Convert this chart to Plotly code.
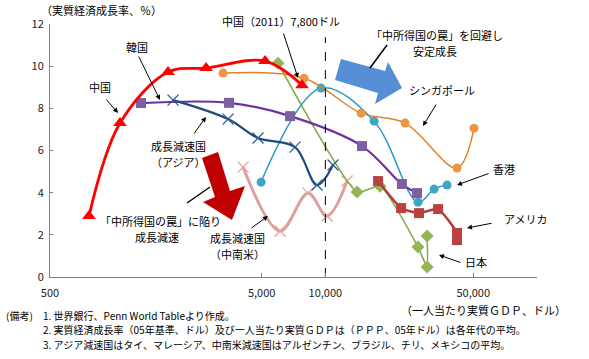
import plotly.graph_objects as go

# ---- data (per-capita real GDP in USD, real growth rate %) ----
china_x = [764, 1071, 1806, 2731, 5190, 7760]
china_y = [2.89, 7.30, 9.72, 9.91, 10.24, 9.10]

korea_x = [1346, 3507, 6811, 14900, 23000, 27100]
korea_y = [8.25, 8.26, 7.63, 6.21, 4.41, 3.98]

asia_x = [1907, 3470, 4806, 7190, 9135, 10870]
asia_y = [8.39, 7.49, 6.59, 6.16, 4.36, 5.31]

latam_x = [4085, 6110, 8285, 10190, 12670]
latam_y = [5.21, 2.18, 3.98, 2.89, 4.55]

hk_x = [4970, 9550, 16990, 27400, 32650, 37600]
hk_y = [4.50, 8.96, 7.39, 3.55, 4.17, 4.36]

sg_x = [3286, 7930, 14760, 23800, 41900, 50400]
sg_y = [9.67, 9.43, 7.77, 7.30, 5.17, 7.06]

jp_x = [5975, 14120, 18140, 27400, 30250, 30250]
jp_y = [10.14, 4.03, 4.31, 1.42, 0.47, 1.94]

us_x = [17750, 22800, 27700, 34100, 41900, 41900]
us_y = [4.55, 3.27, 3.03, 3.22, 2.09, 1.75]

x_tickvals = [500, 5000, 10000, 50000]
x_ticktext = ["500", "5,000", "10,000", "50,000"]
y_tickvals = [0, 2, 4, 6, 8, 10, 12]

threshold_x = [10000, 10000]
threshold_y = [0, 11.37]

FONT = "Noto Sans CJK JP"
W, H = 589, 359
L, R, T, B = 50, 52, 24, 82
PW, PH = W - L - R, H - T - B


def px(x):
    return (x - L) / PW


def py(y):
    return (H - B - y) / PH


fig = go.Figure()


def series(x, y, line_color, marker_color, symbol, size, width, smooth=1.0, mline=None):
    marker = dict(symbol=symbol, size=size, color=marker_color)
    if mline:
        marker["line"] = dict(color=mline, width=1.3)
    fig.add_trace(go.Scatter(
        x=x, y=y, mode="lines+markers",
        line=dict(color=line_color, width=width, shape="spline", smoothing=smooth),
        marker=marker, showlegend=False, hoverinfo="skip"))


series(latam_x, latam_y, "#DDA09E", "#DDA09E", "x-thin", 11, 3, mline="#E0A4A2")
series(jp_x, jp_y, "#87A848", "#93B553", "diamond", 10, 1.6, smooth=0.5)
series(us_x, us_y, "#B23C3A", "#B8423F", "square", 10, 2.5, smooth=0.5)
series(hk_x, hk_y, "#2E9CC2", "#3DA6C6", "circle", 9, 1.5)
series(sg_x, sg_y, "#E47F2A", "#EE9443", "circle", 9, 1.5)
series(korea_x, korea_y, "#7030A0", "#7E5FA4", "square", 10, 2.2)
series(asia_x, asia_y, "#1C4A7E", "#2B5A8E", "x-thin", 11, 2.2, mline="#2B5A8E")
series(china_x, china_y, "#FF0000", "#FF0000", "triangle-up", 12, 2.8)

fig.add_trace(go.Scatter(x=threshold_x, y=threshold_y, mode="lines",
                         line=dict(color="#000000", width=1, dash="dash"),
                         showlegend=False, hoverinfo="skip"))

ann = []


def text(t, x, y, size=11, **kw):
    ann.append(dict(text=t, x=px(x), y=py(y), xref="paper", yref="paper",
                    showarrow=False, borderpad=0,
                    font=dict(family=FONT, size=size, color="#000"),
                    xanchor=kw.get("xanchor", "center"), yanchor="middle"))


def arrow(tail, tip):
    ann.append(dict(text="", x=px(tip[0]), y=py(tip[1]), xref="paper", yref="paper",
                    ax=tail[0] - tip[0], ay=tail[1] - tip[1], axref="pixel", ayref="pixel",
                    showarrow=True, arrowhead=2, arrowsize=1, arrowwidth=1,
                    arrowcolor="#000"))


text("（実質経済成長率、％）", 101, 10)
text("（一人当たり実質ＧＤＰ、ドル）", 483, 310)
text("中国", 100, 87)
text("韓国", 137, 47)
text("中国（2011）7,800ドル", 281, 21)
text("「中所得国の罠」を回避し", 437, 35)
text("安定成長", 435, 51)
text("シンガポール", 442, 90)
text("香港", 504, 169)
text("アメリカ", 525, 219)
text("日本", 476, 262)
text("成長減速国", 178, 146)
text("（アジア）", 178, 162)
text("「中所得国の罠」に陥り", 160, 221)
text("成長減速", 157, 237)
text("成長減速国", 237, 238)
text("（中南米）", 237, 254)

text("(備考)", 5, 315, size=10, xanchor="left")
text("1. 世界銀行、Penn World Tableより作成。", 42, 315, size=10, xanchor="left")
text("2. 実質経済成長率（05年基準、ドル）及び一人当たり実質ＧＤＰは（ＰＰＰ、05年ドル）は各年代の平均。", 42, 329, size=10, xanchor="left")
text("3. アジア減速国はタイ、マレーシア、中南米減速国はアルゼンチン、ブラジル、チリ、メキシコの平均。", 42, 344, size=10, xanchor="left")

arrow((105, 98), (118, 113))
arrow((138, 55), (160, 100))
arrow((283, 32), (298, 78))
arrow((437, 103), (423, 126))
arrow((490, 173), (457, 185))
arrow((493, 223), (467, 228))
arrow((462, 263), (439, 255))
arrow((193, 135), (206, 117))
arrow((250, 229), (268, 216))


def path(points):
    s = "M " + " L ".join(f"{px(a):.4f},{py(b):.4f}" for a, b in points) + " Z"
    return s


shapes = [
    dict(type="path", xref="paper", yref="paper", line=dict(width=0),
         fillcolor="#558ED5",
         path=path([(341, 59), (385, 71), (388, 62), (402, 88), (375, 104), (378, 93), (335, 80)])),
    dict(type="path", xref="paper", yref="paper", line=dict(width=0),
         fillcolor="#C00000",
         path=path([(202, 158), (218, 152), (230, 191), (245, 186), (232, 220), (203, 202), (215, 197)])),
    dict(type="line", xref="paper", yref="paper", x0=px(387), y0=py(45), x1=px(370), y1=py(68),
         line=dict(color="#000", width=1.5)),
    dict(type="line", xref="paper", yref="paper", x0=px(187), y0=py(203), x1=px(210), y1=py(187),
         line=dict(color="#000", width=1.5)),
]

fig.update_layout(
    width=W, height=H,
    margin=dict(l=L, r=R, t=T, b=B),
    paper_bgcolor="white", plot_bgcolor="white",
    font=dict(family=FONT, size=11, color="#000"),
    annotations=ann, shapes=shapes,
    xaxis=dict(type="log", range=[2.69897, 5], tickvals=x_tickvals, ticktext=x_ticktext,
               showline=True, linecolor="#808080", linewidth=1, ticks="inside", ticklen=4,
               tickcolor="#808080", showgrid=False, zeroline=False, ticklabelstandoff=6,
               tickfont=dict(family=FONT, size=11, color="#222")),
    yaxis=dict(range=[0, 12], tickvals=y_tickvals, showline=True, linecolor="#808080",
               linewidth=1, ticks="inside", ticklen=3, tickcolor="#808080",
               showgrid=False, zeroline=False, ticklabelstandoff=3,
               tickfont=dict(family=FONT, size=11, color="#222")),
)

fig.write_html("out.html", config={"displayModeBar": False, "staticPlot": True},
               post_script="document.body.style.margin='0';document.body.style.overflow='hidden';")
